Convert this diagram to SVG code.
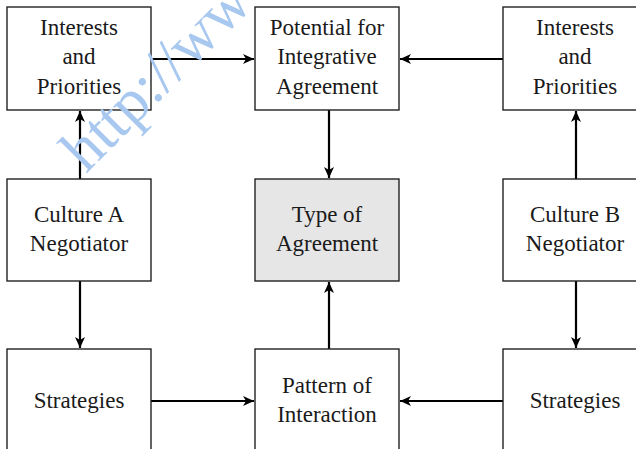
<svg xmlns="http://www.w3.org/2000/svg" width="636" height="449" viewBox="0 0 636 449">
<style>
.box{fill:#fff;stroke:#222;stroke-width:1.4}
.shade{fill:#e6e6e6}
.lbl{font-size:23px;fill:#1a1a1a;text-anchor:middle}
.con{stroke:#000;stroke-width:2.2;fill:none;marker-end:url(#ah)}
.wm{font-size:62px;fill:#a8c8f0}
</style>
<defs>
<marker id="ah" markerWidth="12" markerHeight="10" refX="11" refY="5" orient="auto" markerUnits="userSpaceOnUse">
<path d="M0,0 L11,5 L0,10 L3,5 Z" fill="#000"/>
</marker>
</defs>
<rect width="636" height="449" fill="#fff"/>
<g id="connectors">
<line class="con" x1="151" y1="59" x2="254" y2="59"/>
<line class="con" x1="503" y1="59" x2="400" y2="59"/>
<line class="con" x1="80" y1="179" x2="80" y2="111"/>
<line class="con" x1="329" y1="110" x2="329" y2="178"/>
<line class="con" x1="576" y1="179" x2="576" y2="111"/>
<line class="con" x1="80" y1="281" x2="80" y2="348"/>
<line class="con" x1="329" y1="349" x2="329" y2="282"/>
<line class="con" x1="576" y1="281" x2="576" y2="348"/>
<line class="con" x1="151" y1="401" x2="254" y2="401"/>
<line class="con" x1="503" y1="401" x2="400" y2="401"/>
</g>
<g font-family="Liberation Serif, Times New Roman, DejaVu Serif, serif">
<g id="interestsA"><rect class="box" x="7" y="7" width="144" height="103"/><text class="lbl" x="79" y="35">Interests</text><text class="lbl" x="79" y="64">and</text><text class="lbl" x="79" y="94">Priorities</text></g>
<g id="potential"><rect class="box" x="255" y="7" width="144" height="103"/><text class="lbl" x="327" y="35">Potential for</text><text class="lbl" x="327" y="64">Integrative</text><text class="lbl" x="327" y="94">Agreement</text></g>
<g id="interestsB"><rect class="box" x="503" y="7" width="144" height="103"/><text class="lbl" x="575" y="35">Interests</text><text class="lbl" x="575" y="64">and</text><text class="lbl" x="575" y="94">Priorities</text></g>
<g id="cultureA"><rect class="box" x="7" y="179" width="144" height="102"/><text class="lbl" x="79" y="222">Culture A</text><text class="lbl" x="79" y="251">Negotiator</text></g>
<g id="type"><rect class="box shade" x="255" y="179" width="144" height="102"/><text class="lbl" x="327" y="222">Type of</text><text class="lbl" x="327" y="251">Agreement</text></g>
<g id="cultureB"><rect class="box" x="503" y="179" width="144" height="102"/><text class="lbl" x="575" y="222">Culture B</text><text class="lbl" x="575" y="251">Negotiator</text></g>
<g id="strategiesA"><rect class="box" x="7" y="349" width="144" height="110"/><text class="lbl" x="79" y="408">Strategies</text></g>
<g id="pattern"><rect class="box" x="255" y="349" width="144" height="110"/><text class="lbl" x="327" y="393">Pattern of</text><text class="lbl" x="327" y="422">Interaction</text></g>
<g id="strategiesB"><rect class="box" x="503" y="349" width="144" height="110"/><text class="lbl" x="575" y="408">Strategies</text></g>
<text class="wm" transform="translate(86,174) rotate(-45)">http://ww</text>
</g>
</svg>
